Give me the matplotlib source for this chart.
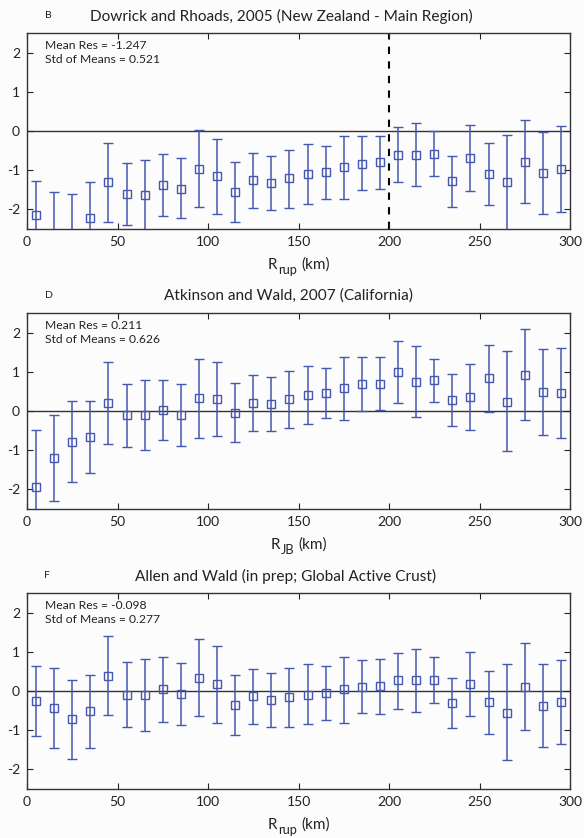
import matplotlib
matplotlib.use("Agg")
import matplotlib.pyplot as plt
import numpy as np

plt.rcParams['font.family'] = ['Lato', 'DejaVu Sans']
plt.rcParams['axes.unicode_minus'] = False

# ---------------- data ----------------
distance = [5, 15, 25, 35, 45, 55, 65, 75, 85, 95, 105, 115, 125, 135, 145,
            155, 165, 175, 185, 195, 205, 215, 225, 235, 245, 255, 265, 275, 285, 295]

# Panel B: Dowrick and Rhoads 2005
b_mean = [-2.15, -2.90, -2.95, -2.22, -1.31, -1.61, -1.64, -1.38, -1.47, -0.97,
          -1.16, -1.55, -1.25, -1.32, -1.21, -1.10, -1.05, -0.92, -0.83, -0.80,
          -0.61, -0.60, -0.58, -1.28, -0.69, -1.10, -1.31, -0.78, -1.08, -0.96]
b_upper = [-1.28, -1.55, -1.60, -1.31, -0.30, -0.81, -0.74, -0.59, -0.70, 0.03,
           -0.20, -0.78, -0.55, -0.63, -0.48, -0.33, -0.37, -0.12, -0.14, -0.12,
           0.10, 0.20, 0.00, -0.63, 0.15, -0.31, -0.11, 0.27, -0.03, 0.13]
b_lower = [-3.02, -4.25, -4.30, -3.13, -2.33, -2.39, -2.55, -2.16, -2.23, -1.95,
           -2.12, -2.33, -1.96, -2.02, -1.96, -1.86, -1.73, -1.73, -1.51, -1.49,
           -1.31, -1.40, -1.16, -1.93, -1.53, -1.89, -2.60, -1.84, -2.11, -2.06]

# Panel D: Atkinson and Wald 2007
d_mean = [-1.95, -1.20, -0.78, -0.67, 0.21, -0.11, -0.10, 0.03, -0.10, 0.32,
          0.31, -0.04, 0.20, 0.18, 0.30, 0.41, 0.45, 0.58, 0.69, 0.70,
          0.99, 0.74, 0.78, 0.27, 0.36, 0.83, 0.24, 0.92, 0.48, 0.46]
d_upper = [-0.49, -0.09, 0.26, 0.26, 1.26, 0.69, 0.79, 0.80, 0.69, 1.33,
           1.26, 0.71, 0.91, 0.87, 1.02, 1.14, 1.10, 1.38, 1.38, 1.38,
           1.78, 1.67, 1.32, 0.94, 1.21, 1.68, 1.52, 2.09, 1.59, 1.61]
d_lower = [-3.41, -2.30, -1.81, -1.58, -0.83, -0.92, -0.99, -0.74, -0.89, -0.68,
           -0.65, -0.79, -0.52, -0.51, -0.44, -0.32, -0.18, -0.22, 0.00, 0.03,
           0.21, -0.16, 0.24, -0.38, -0.49, -0.02, -1.03, -0.23, -0.62, -0.70]

# Panel F: Allen and Wald (in prep)
f_mean = [-0.25, -0.44, -0.72, -0.52, 0.39, -0.09, -0.11, 0.04, -0.08, 0.34,
          0.17, -0.36, -0.14, -0.23, -0.15, -0.09, -0.05, 0.04, 0.11, 0.12,
          0.27, 0.27, 0.28, -0.30, 0.19, -0.28, -0.55, 0.11, -0.37, -0.27]
f_upper = [0.64, 0.59, 0.27, 0.42, 1.40, 0.75, 0.81, 0.87, 0.71, 1.32,
           1.16, 0.41, 0.57, 0.46, 0.59, 0.69, 0.63, 0.87, 0.79, 0.82,
           0.98, 1.06, 0.87, 0.34, 1.00, 0.51, 0.68, 1.22, 0.69, 0.80]
f_lower = [-1.14, -1.46, -1.73, -1.46, -0.61, -0.92, -1.03, -0.78, -0.86, -0.63,
           -0.82, -1.13, -0.84, -0.93, -0.91, -0.84, -0.73, -0.81, -0.57, -0.58,
           -0.45, -0.54, -0.31, -0.94, -0.63, -1.09, -1.77, -1.00, -1.43, -1.34]

letters = ['B', 'D', 'F']
titles = ['Dowrick and Rhoads, 2005 (New Zealand - Main Region)',
          'Atkinson and Wald, 2007 (California)',
          'Allen and Wald (in prep; Global Active Crust)']
xlabel_main = ['R', 'R', 'R']
xlabel_sub = ['rup', 'JB', 'rup']
xlabel_tail = ['(km)', '(km)', '(km)']
mean_res = ['-1.247', '0.211', '-0.098']
std_means = ['0.521', '0.626', '0.277']
xticks = [0, 50, 100, 150, 200, 250, 300]
yticks = [-2, -1, 0, 1, 2]

panels = [(b_mean, b_lower, b_upper), (d_mean, d_lower, d_upper), (f_mean, f_lower, f_upper)]

# ---------------- layout ----------------
W, H = 584, 838
fig = plt.figure(figsize=(W / 100, H / 100), dpi=100, facecolor='#fcfcfc')
ax_px = [(33, 229), (313, 509), (593, 789)]
title_cx = [281, 288, 286]
letter_cx = [48, 49, 47]
left_px, right_px = 27, 570
blue = '#4458b0'
txt = '#222222'

renderer = fig.canvas.get_renderer()

for i, ((m, lo, up), (top, bot)) in enumerate(zip(panels, ax_px)):
    ax = fig.add_axes([left_px / W, 1 - bot / H, (right_px - left_px) / W, (bot - top) / H])
    ax.set_facecolor('#fcfcfc')
    m = np.array(m)
    yerr = np.vstack([m - np.array(lo), np.array(up) - m])
    ax.axhline(0, color='#333333', lw=1.0, zorder=1)
    if i == 0:
        ax.axvline(200, color='black', lw=1.5, ls=(0, (3.5, 3.5)), zorder=1)
    ax.errorbar(distance, m, yerr=yerr, fmt='s', color=blue, ecolor=blue,
                elinewidth=1.1, capsize=3.9, capthick=1.1, markersize=5.5,
                markerfacecolor='none', markeredgecolor=blue, markeredgewidth=1.0,
                zorder=3)
    ax.set_xlim(0, 300)
    ax.set_ylim(-2.5, 2.5)
    ax.set_xticks(xticks)
    ax.set_yticks(yticks)
    ax.tick_params(direction='in', length=4, width=0.8, top=True, right=True,
                   labelsize=10, pad=5, colors=txt)
    for s in ax.spines.values():
        s.set_color('#333333')
        s.set_linewidth(1.0)
    ax.text(0.034, 0.938, 'Mean Res = ' + mean_res[i], transform=ax.transAxes,
            fontsize=8.7, va='center', ha='left', color=txt)
    ax.text(0.034, 0.867, 'Std of Means = ' + std_means[i], transform=ax.transAxes,
            fontsize=8.7, va='center', ha='left', color=txt)
    ty = 1 - (top - 17) / H
    fig.text(title_cx[i] / W, ty, titles[i], fontsize=11.1, ha='center', va='center',
             color=txt)
    fig.text(letter_cx[i] / W, ty, letters[i], fontsize=7.5, ha='center', va='center',
             color=txt)

    # x label with a large subscript, built from three text pieces
    base_y = 1 - (bot + 40) / H
    sub_y = 1 - (bot + 45) / H
    t1 = fig.text(0, base_y, xlabel_main[i], fontsize=11, ha='left', va='baseline', color=txt)
    t2 = fig.text(0, sub_y, xlabel_sub[i], fontsize=9.2, ha='left', va='baseline', color=txt)
    t3 = fig.text(0, base_y, xlabel_tail[i], fontsize=11, ha='left', va='baseline', color=txt)
    w1 = t1.get_window_extent(renderer).width
    w2 = t2.get_window_extent(renderer).width
    w3 = t3.get_window_extent(renderer).width
    gap1, gap2 = 1.5, 3.5
    total = w1 + gap1 + w2 + gap2 + w3
    x0 = (left_px + right_px) / 2 - total / 2
    t1.set_x(x0 / W)
    t2.set_x((x0 + w1 + gap1) / W)
    t3.set_x((x0 + w1 + gap1 + w2 + gap2) / W)

fig.savefig('out.png', dpi=100, facecolor=fig.get_facecolor())
